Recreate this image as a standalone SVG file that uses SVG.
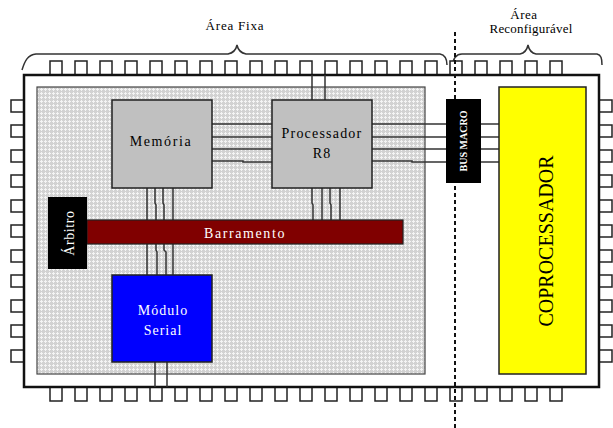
<svg xmlns="http://www.w3.org/2000/svg" width="613" height="428" viewBox="0 0 613 428">
<style>
.pin{fill:#fff;stroke:#222;stroke-width:1.5}
.wire{stroke:#333;stroke-width:1.5;fill:none}
.lbl{font-family:"Liberation Serif","Times New Roman",serif;fill:#000}
.wl{font-family:"Liberation Serif","Times New Roman",serif;fill:#fff}
.box{stroke:#222;stroke-width:1.5}
</style>
<defs>
<pattern id="hatch" width="4" height="4" patternUnits="userSpaceOnUse">
<rect width="4" height="4" fill="#d2d2d2"/>
<rect x="0" y="1" width="3" height="1" fill="#f4f4f4"/>
<rect x="1" y="0" width="1" height="3" fill="#f4f4f4"/>
</pattern>
</defs>
<rect width="613" height="428" fill="#fff"/>

<!-- Labels and braces -->
<g id="labels">
<text class="lbl" x="235" y="30" font-size="13" letter-spacing="0.8" text-anchor="middle">Área Fixa</text>
<text class="lbl" x="524" y="19" font-size="13" letter-spacing="0.5" text-anchor="middle">Área</text>
<text class="lbl" x="531" y="33" font-size="13" letter-spacing="0.2" text-anchor="middle">Reconfigurável</text>
<path class="wire" stroke="#222" d="M22,70 C25,60 28,55 36,54 L228,54 C233,53 236,50 237,45 C238,50 241,53 246,54 L440,54 C445,55 447,58 447,65"/>
<path class="wire" stroke="#222" d="M452,67 C453,58 456,54 462,54 L520,54 C525,53 527,50 528,45 C529,50 531,53 536,54 L597,54 C601,55 602,58 602,65"/>
</g>

<!-- Chip body and pins -->
<g id="chip">
<g id="pins-top">
<rect class="pin" x="50" y="61" width="12" height="14"/><rect class="pin" x="75" y="61" width="12" height="14"/><rect class="pin" x="100" y="61" width="12" height="14"/><rect class="pin" x="125" y="61" width="12" height="14"/><rect class="pin" x="150" y="61" width="12" height="14"/><rect class="pin" x="175" y="61" width="12" height="14"/><rect class="pin" x="200" y="61" width="12" height="14"/><rect class="pin" x="225" y="61" width="12" height="14"/><rect class="pin" x="250" y="61" width="12" height="14"/><rect class="pin" x="275" y="61" width="12" height="14"/><rect class="pin" x="300" y="61" width="12" height="14"/><rect class="pin" x="325" y="61" width="12" height="14"/><rect class="pin" x="350" y="61" width="12" height="14"/><rect class="pin" x="375" y="61" width="12" height="14"/><rect class="pin" x="400" y="61" width="12" height="14"/><rect class="pin" x="425" y="61" width="12" height="14"/><rect class="pin" x="450" y="61" width="12" height="14"/><rect class="pin" x="475" y="61" width="12" height="14"/><rect class="pin" x="500" y="61" width="12" height="14"/><rect class="pin" x="525" y="61" width="12" height="14"/><rect class="pin" x="550" y="61" width="12" height="14"/>
</g>
<g id="pins-bottom">
<rect class="pin" x="50" y="387" width="12" height="14"/><rect class="pin" x="75" y="387" width="12" height="14"/><rect class="pin" x="100" y="387" width="12" height="14"/><rect class="pin" x="125" y="387" width="12" height="14"/><rect class="pin" x="150" y="387" width="12" height="14"/><rect class="pin" x="175" y="387" width="12" height="14"/><rect class="pin" x="200" y="387" width="12" height="14"/><rect class="pin" x="225" y="387" width="12" height="14"/><rect class="pin" x="250" y="387" width="12" height="14"/><rect class="pin" x="275" y="387" width="12" height="14"/><rect class="pin" x="300" y="387" width="12" height="14"/><rect class="pin" x="325" y="387" width="12" height="14"/><rect class="pin" x="350" y="387" width="12" height="14"/><rect class="pin" x="375" y="387" width="12" height="14"/><rect class="pin" x="400" y="387" width="12" height="14"/><rect class="pin" x="425" y="387" width="12" height="14"/><rect class="pin" x="450" y="387" width="12" height="14"/><rect class="pin" x="475" y="387" width="12" height="14"/><rect class="pin" x="500" y="387" width="12" height="14"/><rect class="pin" x="525" y="387" width="12" height="14"/><rect class="pin" x="550" y="387" width="12" height="14"/>
</g>
<g id="pins-left">
<rect class="pin" x="11" y="100" width="13" height="12"/><rect class="pin" x="11" y="125" width="13" height="12"/><rect class="pin" x="11" y="150" width="13" height="12"/><rect class="pin" x="11" y="175" width="13" height="12"/><rect class="pin" x="11" y="200" width="13" height="12"/><rect class="pin" x="11" y="225" width="13" height="12"/><rect class="pin" x="11" y="250" width="13" height="12"/><rect class="pin" x="11" y="275" width="13" height="12"/><rect class="pin" x="11" y="300" width="13" height="12"/><rect class="pin" x="11" y="325" width="13" height="12"/><rect class="pin" x="11" y="350" width="13" height="12"/>
</g>
<g id="pins-right">
<rect class="pin" x="599" y="100" width="13" height="12"/><rect class="pin" x="599" y="125" width="13" height="12"/><rect class="pin" x="599" y="150" width="13" height="12"/><rect class="pin" x="599" y="175" width="13" height="12"/><rect class="pin" x="599" y="200" width="13" height="12"/><rect class="pin" x="599" y="225" width="13" height="12"/><rect class="pin" x="599" y="250" width="13" height="12"/><rect class="pin" x="599" y="275" width="13" height="12"/><rect class="pin" x="599" y="300" width="13" height="12"/><rect class="pin" x="599" y="325" width="13" height="12"/><rect class="pin" x="599" y="350" width="13" height="12"/>
</g>
<rect x="24" y="75" width="575" height="312" fill="#fff" stroke="#111" stroke-width="2.5"/>
</g>

<g id="fixed-area">
<rect x="37" y="87" width="388" height="287" fill="url(#hatch)" stroke="#444" stroke-width="1.2"/>
</g>

<!-- Connectors -->
<g id="connectors">
<path class="wire" d="M212,124 H272 M212,137 H272 M212,149 H272 M212,161 H243 V162 H272"/>
<path class="wire" d="M372,124 H499 M372,137 H499 M372,149 H499 M372,161 H412 V162 H499"/>
<path class="wire" d="M312,75 V100 M325,75 V100"/>
<path class="wire" d="M312,188 V203 L313,205 V220 M322,188 V220 M330,188 V203 L331,205 V220 M340,188 V220"/>
<path class="wire" d="M147,188 V275 M155,188 V203 L156,205 V250 L157,252 V275 M163,188 V203 L164,205 V250 L166,252 V275 M173,188 V275"/>
<path class="wire" d="M155,362 V387 M167,362 V387"/>
<path d="M455,32 V428" stroke="#111" stroke-width="2" stroke-dasharray="4,3" fill="none"/>
</g>

<g id="barramento">
<rect x="87" y="220" width="316" height="24" fill="#800000" stroke="#222" stroke-width="1.2"/>
<text class="wl" x="245" y="238" font-size="14" letter-spacing="1.6" text-anchor="middle">Barramento</text>
</g>

<g id="arbitro">
<rect x="48" y="197" width="39" height="72" fill="#000"/>
<text class="wl" transform="translate(74,233) rotate(-90)" font-size="14" letter-spacing="0.6" text-anchor="middle">Árbitro</text>
</g>

<g id="memoria">
<rect class="box" x="112" y="100" width="100" height="88" fill="#c0c0c0"/>
<text class="lbl" x="161" y="146" font-size="14" letter-spacing="1.6" text-anchor="middle">Memória</text>
</g>

<g id="processador">
<rect class="box" x="272" y="100" width="100" height="88" fill="#c0c0c0"/>
<text class="lbl" x="322" y="138" font-size="14" letter-spacing="1.2" text-anchor="middle">Processador</text>
<text class="lbl" x="322" y="158" font-size="14" letter-spacing="1" text-anchor="middle">R8</text>
</g>

<g id="modulo-serial">
<rect class="box" x="112" y="275" width="100" height="87" fill="#0000ff"/>
<text class="wl" x="163" y="315" font-size="14" letter-spacing="1" text-anchor="middle">Módulo</text>
<text class="wl" x="163" y="335" font-size="14" letter-spacing="1" text-anchor="middle">Serial</text>
</g>

<g id="bus-macro">
<rect x="446" y="99" width="35" height="84" fill="#000"/>
<text class="wl" transform="translate(467,141) rotate(-90)" font-size="10" font-weight="bold" text-anchor="middle">BUS MACRO</text>
</g>

<g id="coprocessador">
<rect class="box" x="499" y="87" width="87" height="287" fill="#ffff00"/>
<text class="lbl" transform="translate(553,241) rotate(-90)" font-size="20" text-anchor="middle">COPROCESSADOR</text>
</g>
</svg>
